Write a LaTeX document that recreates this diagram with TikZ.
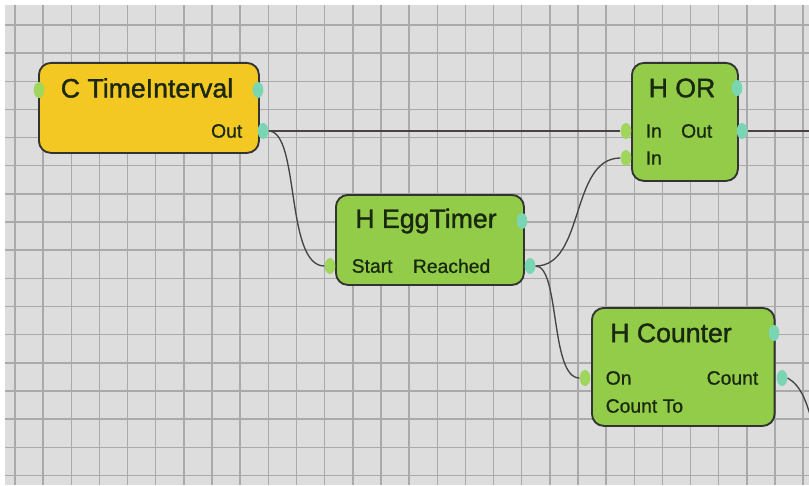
\documentclass[tikz,border=0pt]{standalone}
\usepackage{fontspec}
\setmainfont{Liberation Sans}
\newfontfamily\blockfont[FakeBold=1.3]{Liberation Sans}
\newfontfamily\portfont[FakeBold=0.8]{Liberation Sans}
\usepackage{tikz}
\usetikzlibrary{shapes.geometric}
\usetikzlibrary{positioning}

\definecolor{canvas}{RGB}{221,221,221}
\definecolor{gridline}{RGB}{170,170,170}
\definecolor{blockyellow}{RGB}{244,200,35}
\definecolor{blockgreen}{RGB}{146,204,72}
\definecolor{portin}{RGB}{160,214,92}
\definecolor{portout}{RGB}{122,214,178}
\definecolor{wire}{RGB}{70,66,70}
\definecolor{inktext}{RGB}{26,40,16}

\tikzset{
  block/.style={draw=black!80,line width=1.4pt,rounded corners=9pt,
    inner sep=0pt,anchor=north west},
  title/.style={font=\blockfont\fontsize{20}{22}\selectfont,text=inktext},
  portlabel/.style={font=\portfont\fontsize{14.5}{16}\selectfont,text=inktext},
  inport/.style={ellipse,fill=portin,inner sep=0pt,minimum width=8pt,minimum height=12pt},
  outport/.style={ellipse,fill=portout,inner sep=0pt,minimum width=8pt,minimum height=12pt},
  link/.style={draw=wire,line width=1pt}
}

\begin{document}
\begin{tikzpicture}[x=0.75pt,y=-0.75pt]
\useasboundingbox (0,0) rectangle (809,485);
% canvas with grid
\fill[white] (0,0) rectangle (809,485);
\fill[canvas] (5,5) rectangle (809,485);
\begin{scope}
\clip (5,5) rectangle (809,485);
\foreach \i in {0,...,28}
  \draw[gridline,line width=1.1pt] (15+28.15*\i,5) -- (15+28.15*\i,485);
\foreach \i in {0,...,16}
  \draw[gridline,line width=1.1pt] (5,25+28.15*\i) -- (809,25+28.15*\i);
\end{scope}

% blocks
\node[block,fill=blockyellow,minimum width=165pt,minimum height=67.5pt] (timeint) at (38,62) {};
\node[block,fill=blockgreen,minimum width=79.5pt,minimum height=88.5pt] (orblk) at (631,62) {};
\node[block,fill=blockgreen,minimum width=141pt,minimum height=67.5pt] (egg) at (335,194) {};
\node[block,fill=blockgreen,minimum width=137pt,minimum height=88.5pt] (counter) at (591,307) {};

% titles
\node[title] (timeint-t) at (147,88) {C TimeInterval};
\node[title] (orblk-t) at (682,88) {H OR};
\node[title] (egg-t) at (426,221) {H EggTimer};
\node[title] (counter-t) at (671,333) {H Counter};

% port labels
\node[portlabel,anchor=east] (timeint-o) at (247,131) {Out};
\node[portlabel,anchor=west] (orblk-i1) at (641,131) {In};
\node[portlabel,anchor=west] (orblk-i2) at (641,158) {In};
\node[portlabel,anchor=east] (orblk-o) at (717,131) {Out};
\node[portlabel,anchor=west] (egg-s) at (347,266) {Start};
\node[portlabel,anchor=east] (egg-r) at (495,266) {Reached};
\node[portlabel,anchor=west] (counter-on) at (601,378) {On};
\node[portlabel,anchor=east] (counter-c) at (763,378) {Count};
\node[portlabel,anchor=west] (counter-ct) at (601,406) {Count To};

% port markers
\node[inport] (ti-in) at (39,90) {};
\node[outport] (ti-top) at (258,90) {};
\node[outport] (ti-out) at (263,131) {};
\node[outport] (or-top) at (737,88) {};
\node[inport] (or-in1) at (626,131) {};
\node[inport] (or-in2) at (626,158) {};
\node[outport] (or-out) at (742,131) {};
\node[inport] (eg-in) at (330,266) {};
\node[outport] (eg-top) at (522,221) {};
\node[outport] (eg-out) at (530,266) {};
\node[inport] (ct-in) at (585,378) {};
\node[outport] (ct-top) at (774,333) {};
\node[outport] (ct-out) at (782,378) {};
\coordinate (edge-r) at (809,131);
\coordinate (edge-b) at (816,440);

% wires
\draw[link] (ti-out.east) -- (or-in1.west);
\draw[link] (ti-out.east) .. controls (300,131) and (285,266) .. (eg-in.west);
\draw[link] (eg-out.east) .. controls (585,266) and (570,158) .. (or-in2.west);
\draw[link] (eg-out.east) .. controls (560,266) and (550,378) .. (ct-in.west);
\draw[link] (or-out.east) -- (edge-r);
\draw[link] (ct-out.east) .. controls (800,385) and (808,400) .. (edge-b);
\end{tikzpicture}
\end{document}
